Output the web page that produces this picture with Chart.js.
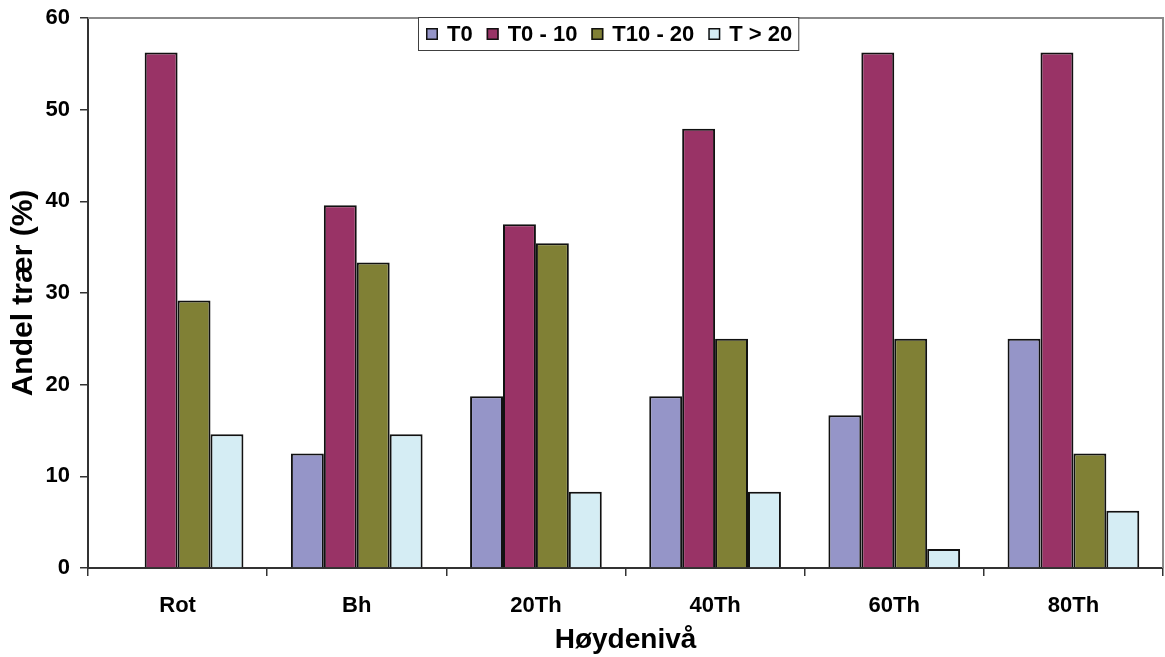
<!DOCTYPE html>
<html>
<head>
<meta charset="utf-8">
<script src="https://cdn.jsdelivr.net/npm/chart.js@4.4.1/dist/chart.umd.min.js"></script>
<style>
  html, body { margin: 0; padding: 0; background: #ffffff; }
  #wrap { width: 1165px; height: 657px; position: relative; }
</style>
</head>
<body>
<div id="wrap"><canvas id="c" width="1165" height="657"></canvas></div>
<script>
// Height levels along the stem
const categories = ['Rot', 'Bh', '20Th', '40Th', '60Th', '80Th'];

// Share of trees (%) per class at each height level
const seriesT0     = [0, 12.5, 18.75, 18.75, 16.67, 25];
const seriesT0_10  = [56.25, 39.58, 37.5, 47.92, 56.25, 56.25];
const seriesT10_20 = [29.17, 33.33, 35.42, 25, 25, 12.5];
const seriesT20    = [14.58, 14.58, 8.33, 8.33, 2.08, 6.25];

const seriesLabels = ['T0', 'T0 - 10', 'T10 - 20', 'T > 20'];
const seriesColors = ['#9595c8', '#993366', '#808035', '#d5edf4'];

const yTicks = [0, 10, 20, 30, 40, 50, 60];

const FONT = "'Liberation Sans', Arial, sans-serif";

// Gray frame on the top and right sides of the plot area
const framePlugin = {
  id: 'frame',
  afterDatasetsDraw(chart) {
    const { ctx, chartArea: a } = chart;
    ctx.save();
    ctx.strokeStyle = '#8a8a8a';
    ctx.lineWidth = 2;
    ctx.beginPath();
    ctx.moveTo(a.left, a.top);
    ctx.lineTo(a.right, a.top);
    ctx.lineTo(a.right, a.bottom);
    ctx.stroke();
    ctx.restore();
  }
};

// Boxed legend laid over the top of the plot area
const boxLegendPlugin = {
  id: 'boxLegend',
  afterDraw(chart) {
    const { ctx } = chart;
    const ds = chart.data.datasets;
    ctx.save();
    ctx.font = "bold 22px " + FONT;
    const sq = 12, sqGap = 9, itemGap = 14, padL = 8, padR = 6;
    const widths = ds.map(d => ctx.measureText(d.label).width);
    let total = padL + padR;
    widths.forEach((w, i) => { total += sq + sqGap + w + (i < widths.length - 1 ? itemGap : 0); });
    const cx = 608, top = 17, h = 33;
    const left = Math.round(cx - total / 2);
    ctx.fillStyle = '#ffffff';
    ctx.fillRect(left, top, total, h);
    ctx.strokeStyle = '#404040';
    ctx.lineWidth = 1;
    ctx.strokeRect(left + 0.5, top + 0.5, total, h);
    let x = left + padL;
    const midY = top + h / 2 + 0.5;
    ds.forEach((d, i) => {
      ctx.fillStyle = d.backgroundColor;
      ctx.fillRect(x, midY - sq / 2, sq, sq);
      ctx.strokeStyle = '#111';
      ctx.lineWidth = 1.5;
      ctx.strokeRect(x + 0.75, midY - sq / 2 + 0.75, sq - 1.5, sq - 1.5);
      x += sq + sqGap;
      ctx.fillStyle = '#000';
      ctx.textBaseline = 'middle';
      ctx.textAlign = 'left';
      ctx.fillText(d.label, x, midY + 1);
      x += widths[i] + itemGap;
    });
    ctx.restore();
  }
};

const allSeries = [seriesT0, seriesT0_10, seriesT10_20, seriesT20];

new Chart(document.getElementById('c'), {
  type: 'bar',
  data: {
    labels: categories,
    datasets: allSeries.map((vals, i) => ({
      label: seriesLabels[i],
      data: vals,
      backgroundColor: seriesColors[i],
      borderColor: '#111111',
      borderWidth: 2,
      categoryPercentage: 0.735,
      barPercentage: 1.0
    }))
  },
  options: {
    responsive: false,
    animation: false,
    devicePixelRatio: 1,
    layout: { padding: { top: 18, right: 2, left: 0, bottom: 0 } },
    plugins: {
      legend: { display: false },
      tooltip: { enabled: false }
    },
    scales: {
      x: {
        offset: true,
        grid: {
          offset: true,
          drawOnChartArea: false,
          drawTicks: true,
          tickLength: 8,
          color: '#333',
          lineWidth: 1.5
        },
        border: { color: '#333', width: 2 },
        ticks: {
          color: '#000',
          padding: 17,
          font: { family: FONT, size: 22, weight: 'bold' },
          maxRotation: 0
        },
        title: {
          display: true,
          text: 'Høydenivå',
          color: '#000',
          font: { family: FONT, size: 28, weight: 'bold' },
          padding: { top: 0, bottom: 0 }
        },
        afterFit(scale) {
          scale.height = 89;
          scale.paddingLeft = 0;
          scale.paddingRight = 0;
        }
      },
      y: {
        min: 0,
        max: 60,
        afterBuildTicks(scale) { scale.ticks = yTicks.map(v => ({ value: v })); },
        grid: {
          drawOnChartArea: false,
          drawTicks: true,
          tickLength: 8,
          color: '#333',
          lineWidth: 1.5
        },
        border: { color: '#333', width: 2 },
        ticks: {
          color: '#000',
          padding: 10,
          font: { family: FONT, size: 22, weight: 'bold' }
        },
        title: {
          display: true,
          text: 'Andel trær (%)',
          color: '#000',
          font: { family: FONT, size: 30, weight: 'bold' },
          padding: { top: 6, bottom: 0 }
        },
        afterFit(scale) {
          scale.width = 88;
          scale.paddingTop = 0;
          scale.paddingBottom = 0;
        }
      }
    }
  },
  plugins: [framePlugin, boxLegendPlugin]
});
</script>
</body>
</html>
